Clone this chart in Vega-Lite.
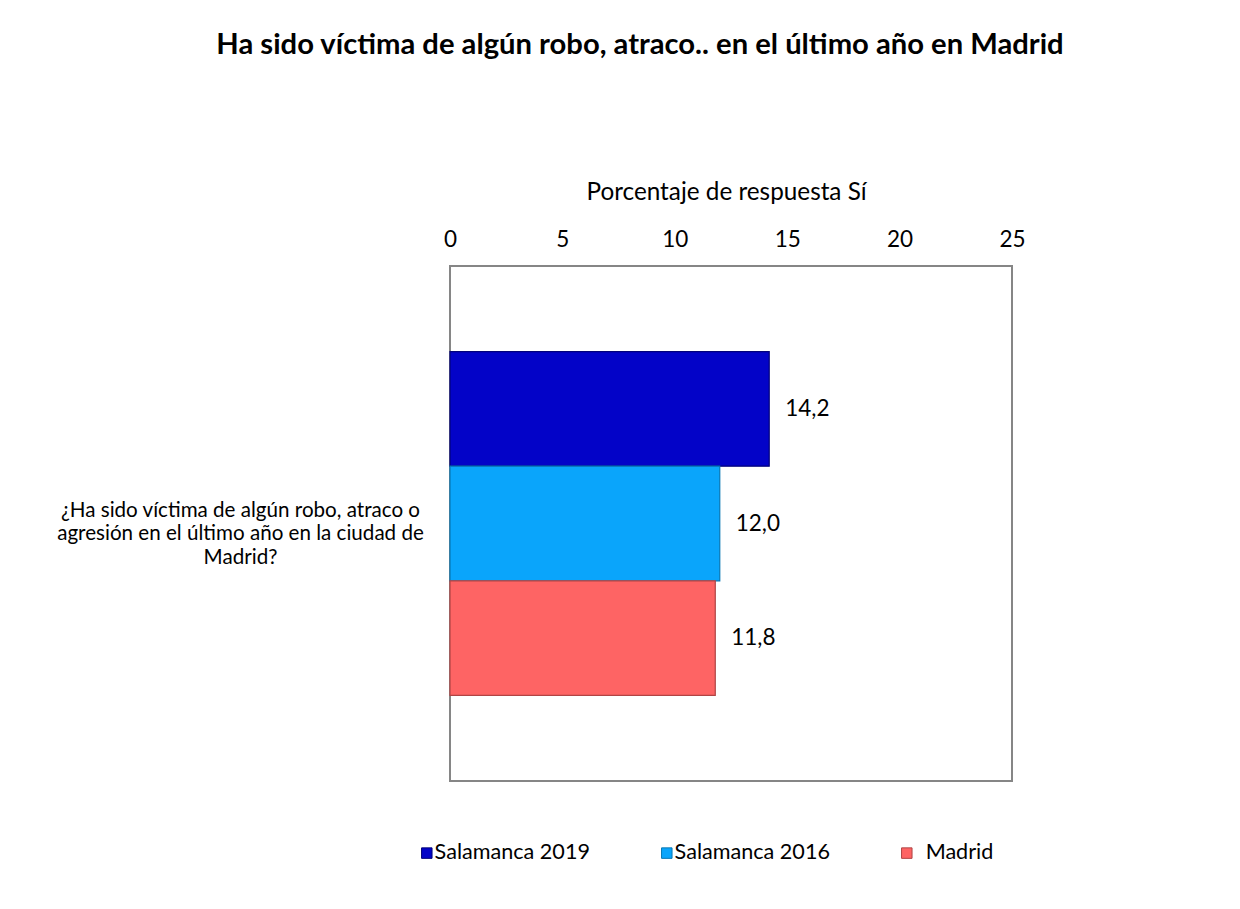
{
  "$schema": "https://vega.github.io/schema/vega-lite/v6.json",
  "width": 562,
  "height": 515,
  "autosize": {"type": "none"},
  "padding": {"left": 450, "top": 266, "right": 228, "bottom": 128},
  "background": "white",
  "title": {
    "text": "Ha sido víctima de algún robo, atraco.. en el último año en Madrid",
    "font": "Lato", "fontSize": 29.2, "fontWeight": "bold", "color": "black",
    "anchor": "middle", "dx": -91, "offset": 120
  },
  "config": {
    "view": {"stroke": "#868686", "strokeWidth": 2},
    "font": "Lato"
  },
  "data": {
    "values": [
      {"pregunta": "¿Ha sido víctima de algún robo, atraco o|agresión en el último año en la ciudad de|Madrid?", "serie": "Salamanca 2019", "valor": 14.2, "etiqueta": "14,2"},
      {"pregunta": "¿Ha sido víctima de algún robo, atraco o|agresión en el último año en la ciudad de|Madrid?", "serie": "Salamanca 2016", "valor": 12.0, "etiqueta": "12,0"},
      {"pregunta": "¿Ha sido víctima de algún robo, atraco o|agresión en el último año en la ciudad de|Madrid?", "serie": "Madrid", "valor": 11.8, "etiqueta": "11,8"}
    ]
  },
  "encoding": {
    "y": {
      "field": "pregunta", "type": "nominal",
      "scale": {"paddingInner": 0, "paddingOuter": 0.249},
      "axis": {
        "title": null, "ticks": false, "domain": false,
        "labelAlign": "center", "labelPadding": 210,
        "labelExpr": "split(datum.label, '|')",
        "labelFont": "Lato", "labelFontSize": 20.6, "labelLineHeight": 23.5,
        "labelColor": "black", "labelLimit": 0, "labelOffset": -13
      }
    },
    "yOffset": {
      "field": "serie", "type": "nominal",
      "sort": ["Salamanca 2019", "Salamanca 2016", "Madrid"],
      "scale": {"paddingInner": 0}
    },
    "x": {
      "field": "valor", "type": "quantitative",
      "scale": {"domain": [0, 25], "nice": false},
      "axis": {
        "orient": "top", "values": [0, 5, 10, 15, 20, 25],
        "title": "Porcentaje de respuesta Sí", "titleFont": "Lato", "titleFontSize": 24.3,
        "titleFontWeight": "normal", "titleColor": "black", "titlePadding": 24,
        "titleX": 276,
        "labelFont": "Lato", "labelFontSize": 22.5, "labelColor": "black",
        "labelPadding": 15, "ticks": false, "domain": false, "grid": false,
        "labelFlush": false
      }
    }
  },
  "layer": [
    {
      "mark": {"type": "bar", "strokeWidth": 1.2},
      "encoding": {
        "color": {
          "field": "serie", "type": "nominal",
          "sort": ["Salamanca 2019", "Salamanca 2016", "Madrid"],
          "scale": {"domain": ["Salamanca 2019", "Salamanca 2016", "Madrid"], "range": ["#0303c8", "#0aa5fb", "#fe6464"]},
          "legend": {
            "title": null, "orient": "none", "direction": "horizontal",
            "legendX": -34, "legendY": 576,
            "symbolType": "square", "symbolSize": 110, "symbolStrokeWidth": 1,
            "labelFont": "Lato", "labelFontSize": 21.6, "labelColor": "black",
            "labelOffset": -3, "columnPadding": 66,
            "labelExpr": "datum.label == 'Madrid' ? '\u200b\u00a0\u00a0Madrid' : datum.label"
          }
        },
        "stroke": {
          "field": "serie", "type": "nominal",
          "scale": {"domain": ["Salamanca 2019", "Salamanca 2016", "Madrid"], "range": ["#02027a", "#0677b5", "#b04444"]},
          "legend": null
        }
      }
    },
    {
      "mark": {"type": "text", "align": "left", "dx": 16, "font": "Lato", "fontSize": 22.5, "color": "black"},
      "encoding": {"text": {"field": "etiqueta"}}
    }
  ]
}
